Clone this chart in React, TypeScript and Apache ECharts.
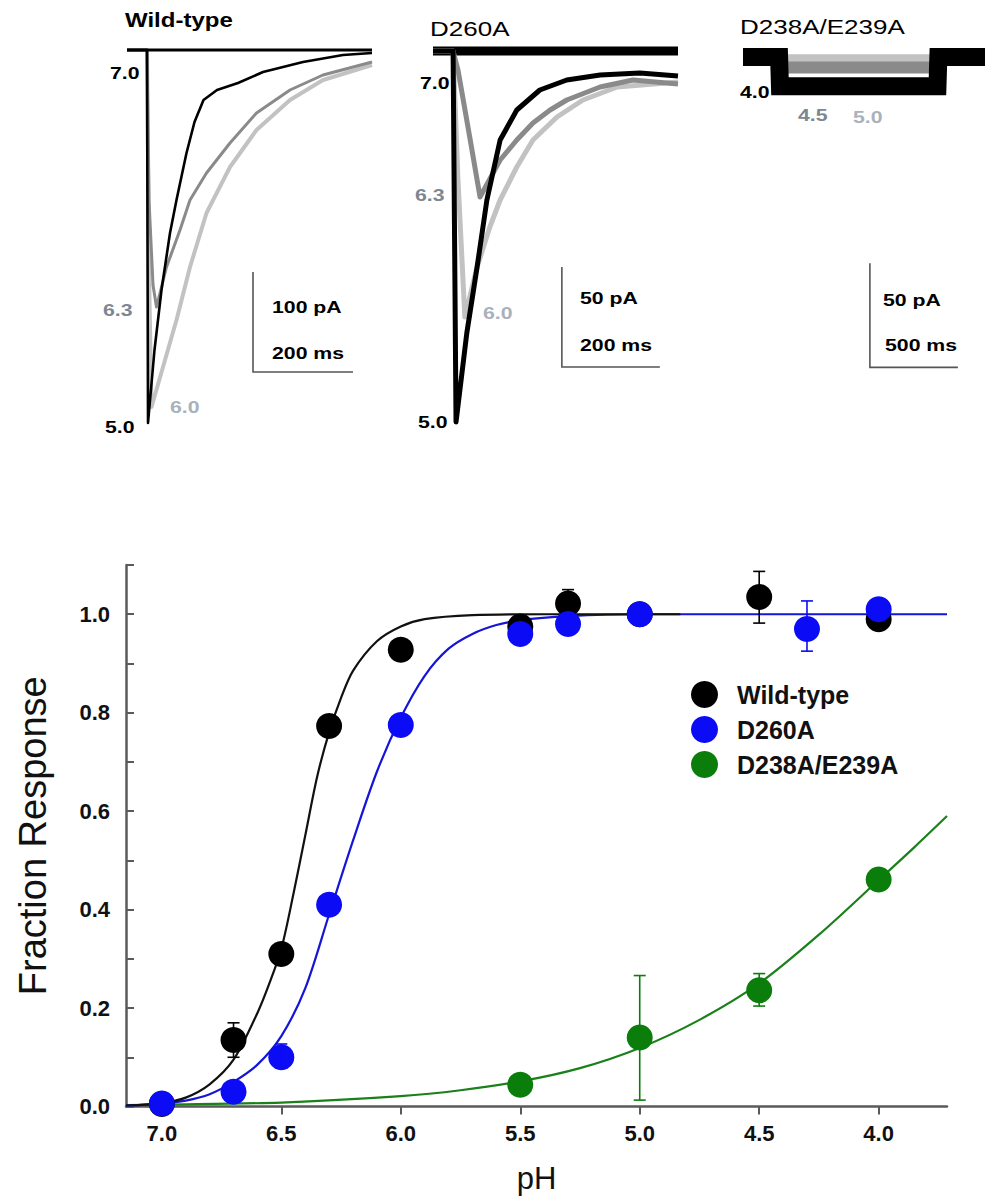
import React, { useEffect, useRef } from "react";
import * as echarts from "echarts";

const FONT = '"Liberation Sans", Arial, Helvetica, sans-serif';

// ---------- Dose-response (bottom panel) ----------
const PH_TICKS = [7.0, 6.5, 6.0, 5.5, 5.0, 4.5, 4.0];
const Y_TICKS = [0, 0.1, 0.2, 0.3, 0.4, 0.5, 0.6, 0.7, 0.8, 0.9, 1.0, 1.1];
const Y_LABELS = [0, 0.2, 0.4, 0.6, 0.8, 1.0];

const WT_POINTS = [
  [7.0, 0.005], [6.7, 0.135], [6.5, 0.31], [6.3, 0.773], [6.0, 0.928],
  [5.5, 0.975], [5.3, 1.022], [5.0, 1.0], [4.5, 1.035], [4.0, 0.99],
];
const D260A_POINTS = [
  [7.0, 0.006], [6.7, 0.03], [6.5, 0.1], [6.3, 0.41], [6.0, 0.775],
  [5.5, 0.96], [5.3, 0.98], [5.0, 1.0], [4.3, 0.97], [4.0, 1.01],
];
const DE_POINTS = [[5.5, 0.044], [5.0, 0.14], [4.5, 0.236], [4.0, 0.461]];

// [pH, low, high]
const WT_ERR = [[6.7, 0.1, 0.17], [5.3, 0.995, 1.05], [4.5, 0.982, 1.087]];
const D260A_ERR = [[6.5, 0.078, 0.127], [5.0, 0.985, 1.015], [4.3, 0.925, 1.027]];
const DE_ERR = [[5.0, 0.013, 0.266], [4.5, 0.204, 0.27]];

// fitted curves
const WT_FIT = [
  [7.15, 0.002], [7.0, 0.007], [6.9, 0.018], [6.8, 0.045], [6.7, 0.095],
  [6.6, 0.19], [6.55, 0.25], [6.5, 0.32], [6.45, 0.43], [6.4, 0.55],
  [6.35, 0.67], [6.3, 0.76], [6.25, 0.83], [6.2, 0.885], [6.1, 0.945],
  [6.0, 0.975], [5.9, 0.99], [5.7, 0.998], [5.4, 1.0], [4.83, 1.0],
];
const D260A_FIT = [
  [7.15, 0.002], [7.0, 0.006], [6.9, 0.012], [6.8, 0.025], [6.7, 0.05],
  [6.6, 0.085], [6.5, 0.143], [6.4, 0.24], [6.3, 0.39], [6.2, 0.54],
  [6.1, 0.68], [6.0, 0.79], [5.9, 0.875], [5.8, 0.93], [5.7, 0.96],
  [5.6, 0.978], [5.5, 0.988], [5.3, 0.996], [5.0, 1.0], [4.0, 1.0], [3.714, 1.0],
];
const DE_FIT = [
  [7.15, 0.003], [7.0, 0.004], [6.5, 0.008], [6.0, 0.021], [5.75, 0.033],
  [5.5, 0.051], [5.25, 0.078], [5.0, 0.119], [4.75, 0.176], [4.5, 0.25],
  [4.25, 0.349], [4.0, 0.46], [3.85, 0.527], [3.714, 0.59],
];

// ---------- Current traces (top panels), [ms, pA] ----------
const WT_T70 = [[0, 0], [490, 0]];
const WT_T50 = [
  [0, 0], [40, 0], [42, -373], [55, -300], [69, -240], [86, -183], [99, -150],
  [119, -103], [135, -72], [153, -50], [180, -40], [222, -33], [272, -22],
  [352, -12], [432, -5], [490, -3],
];
const WT_T63 = [
  [0, 0], [40, 0], [44, -150], [52, -235], [59, -257], [79, -217], [106, -180],
  [126, -150], [159, -123], [206, -93], [259, -63], [326, -40], [392, -25], [490, -12],
];
const WT_T60 = [
  [0, 0], [40, 0], [45, -250], [49, -357], [72, -317], [99, -270], [126, -217],
  [159, -163], [206, -117], [259, -80], [326, -50], [392, -30], [490, -15],
];
const WT_SCALE = { t0: 252, i0: -322, pA: 100, ms: 200 };

const D2_T70 = [[0, 0], [500, 0]];
const D2_T50 = [
  [0, 0], [41, 0], [47, -185.5], [69, -141], [90, -108], [110, -74.5], [137, -44.5],
  [171, -29.5], [218, -19.5], [273, -14.5], [341, -12], [422, -11], [500, -12.5],
];
const D2_T63 = [
  [0, 0], [41, 0], [51, -9.5], [76, -44.5], [96, -73], [137, -54.5], [171, -44.5],
  [204, -36], [239, -29.5], [273, -24.5], [341, -18], [408, -14.5], [500, -16.5],
];
const D2_T60 = [
  [0, 0], [41, 0], [51, -64.5], [65, -133], [90, -108], [116, -88], [137, -74.5],
  [171, -58], [204, -44.5], [253, -33], [306, -24.5], [376, -18], [500, -15.5],
];
const D2_SCALE = { t0: 263, i0: -158, pA: 50, ms: 200 };

const D3_T40 = [[0, 0], [205, 0], [210, -14], [1105, -14], [1110, 0], [1375, 0]];
const D3_T45 = [[0, 0], [205, 0], [210, -5], [1105, -5], [1110, 0], [1375, 0]];
const D3_T50 = [[0, 0], [205, 0], [210, -1.5], [1105, -1.5], [1110, 0], [1375, 0]];
const D3_SCALE = { t0: 721, i0: -149, pA: 50, ms: 500 };

const BLACK = "#000000";
const BLUE = "#0b0bf5";
const GREEN = "#0b7d0b";
const MID_GRAY = "#8a8a8a";
const LIGHT_GRAY = "#c2c2c2";
const AXIS_GRAY = "#5a5a5a";

const errRender = (color: string) => (params: any, api: any) => {
  const x = api.value(0);
  const lo = api.coord([x, api.value(1)]);
  const hi = api.coord([x, api.value(2)]);
  const cap = 6;
  const style = { stroke: color, lineWidth: 1.6 };
  return {
    type: "group",
    children: [
      { type: "line", shape: { x1: lo[0], y1: lo[1], x2: hi[0], y2: hi[1] }, style },
      { type: "line", shape: { x1: lo[0] - cap, y1: lo[1], x2: lo[0] + cap, y2: lo[1] }, style },
      { type: "line", shape: { x1: hi[0] - cap, y1: hi[1], x2: hi[0] + cap, y2: hi[1] }, style },
    ],
  };
};

const trace = (
  idx: number,
  data: number[][],
  color: string,
  width: number,
  join = "round"
) => ({
  type: "line",
  xAxisIndex: idx,
  yAxisIndex: idx,
  data,
  symbol: "none",
  showSymbol: false,
  silent: true,
  animation: false,
  lineStyle: { color, width, join },
  z: 2,
});

const scaleBar = (idx: number, s: { t0: number; i0: number; pA: number; ms: number }) =>
  trace(
    idx,
    [
      [s.t0, s.i0 + s.pA],
      [s.t0, s.i0],
      [s.t0 + s.ms, s.i0],
    ],
    "#555555",
    1.6,
    "miter"
  );

const txt = (
  text: string,
  x: number,
  y: number,
  size: number,
  weight: string,
  fill: string,
  sx = 1.25
) => ({
  type: "text",
  x,
  y,
  scaleX: sx,
  silent: true,
  z: 10,
  style: {
    text,
    fill,
    fontSize: size,
    fontWeight: weight,
    fontFamily: FONT,
    align: "left",
    verticalAlign: "top",
  },
});

const fitLine = (name: string, data: number[][], color: string) => ({
  type: "line",
  name,
  xAxisIndex: 0,
  yAxisIndex: 0,
  data,
  symbol: "none",
  showSymbol: false,
  smooth: 0.3,
  lineStyle: { color, width: 2.2 },
  z: 2,
});

const points = (name: string, data: number[][], color: string, z: number) => ({
  type: "scatter",
  name,
  xAxisIndex: 0,
  yAxisIndex: 0,
  data,
  symbolSize: 26,
  itemStyle: { color, opacity: 1 },
  z,
});

const errors = (name: string, data: number[][], color: string, z: number) => ({
  type: "custom",
  name,
  xAxisIndex: 0,
  yAxisIndex: 0,
  data,
  encode: { x: 0, y: [1, 2] },
  renderItem: errRender(color),
  z,
});

export default function App() {
  const ref = useRef<HTMLDivElement>(null);

  useEffect(() => {
    if (!ref.current) return;
    const chart = echarts.init(ref.current, undefined, { renderer: "svg" });

    const hiddenX = (idx: number, max: number) => ({
      gridIndex: idx,
      type: "value",
      min: 0,
      max,
      show: false,
    });
    const hiddenY = (idx: number, min: number, max: number) => ({
      gridIndex: idx,
      type: "value",
      min,
      max,
      show: false,
    });

    const option: any = {
      animation: false,
      backgroundColor: "#ffffff",
      textStyle: { fontFamily: FONT },
      grid: [
        { left: 126, top: 565, width: 821, height: 541.5 },
        { left: 127, top: 40, width: 245, height: 400 },
        { left: 433, top: 40, width: 245, height: 400 },
        { left: 743, top: 40, width: 242, height: 400 },
      ],
      xAxis: [
        {
          gridIndex: 0,
          type: "value",
          min: 3.714,
          max: 7.15,
          inverse: true,
          name: "pH",
          nameLocation: "middle",
          nameGap: 56,
          nameTextStyle: { fontSize: 31, color: "#111", fontFamily: FONT },
          axisLine: { show: true, onZero: false, lineStyle: { color: AXIS_GRAY, width: 2.5 } },
          axisTick: {
            show: true,
            inside: false,
            length: 8,
            customValues: PH_TICKS,
            lineStyle: { color: AXIS_GRAY, width: 2 },
          },
          axisLabel: {
            customValues: PH_TICKS,
            formatter: (v: number) => v.toFixed(1),
            fontSize: 22,
            fontWeight: "bold",
            color: "#111",
            margin: 16,
            fontFamily: FONT,
          },
          splitLine: { show: false },
        },
        hiddenX(1, 490),
        hiddenX(2, 500),
        hiddenX(3, 1375),
      ],
      yAxis: [
        {
          gridIndex: 0,
          type: "value",
          min: 0,
          max: 1.1,
          name: "Fraction Response",
          nameLocation: "middle",
          nameGap: 74,
          nameTextStyle: { fontSize: 38, color: "#111", fontFamily: FONT },
          axisLine: { show: true, onZero: false, lineStyle: { color: AXIS_GRAY, width: 2.5 } },
          axisTick: {
            show: true,
            inside: true,
            length: 8,
            customValues: Y_TICKS,
            lineStyle: { color: AXIS_GRAY, width: 2 },
          },
          axisLabel: {
            customValues: Y_LABELS,
            formatter: (v: number) => v.toFixed(1),
            fontSize: 22,
            fontWeight: "bold",
            color: "#111",
            margin: 16,
            fontFamily: FONT,
          },
          splitLine: { show: false },
        },
        hiddenY(1, -390, 10),
        hiddenY(2, -194.5, 5.5),
        hiddenY(3, -183.84, 8.16),
      ],
      legend: {
        data: [
          { name: "Wild-type", icon: "circle" },
          { name: "D260A", icon: "circle" },
          { name: "D238A/E239A", icon: "circle" },
        ],
        orient: "vertical",
        left: 686,
        top: 676,
        itemWidth: 27,
        itemHeight: 27,
        itemGap: 8,
        selectedMode: false,
        textStyle: {
          fontSize: 25,
          fontWeight: "bold",
          color: "#111",
          fontFamily: FONT,
          padding: [0, 0, 0, 14],
        },
      },
      graphic: [
        // Wild-type panel
        txt("Wild-type", 125, 10, 20, "bold", "#000", 1.2),
        txt("7.0", 110, 65, 17, "bold", "#000"),
        txt("6.3", 103, 302, 17, "bold", "#7d8791"),
        txt("6.0", 170, 399, 17, "bold", "#a9b1bb"),
        txt("5.0", 105, 419, 17, "bold", "#000"),
        txt("100 pA", 272, 299, 17, "bold", "#000"),
        txt("200 ms", 272, 345, 17, "bold", "#000"),
        // D260A panel
        txt("D260A", 430, 19, 20, "normal", "#000", 1.3),
        txt("7.0", 420, 75, 17, "bold", "#000"),
        txt("6.3", 415, 187, 17, "bold", "#7d8791"),
        txt("6.0", 483, 305, 17, "bold", "#a9b1bb"),
        txt("5.0", 418, 414, 17, "bold", "#000"),
        txt("50 pA", 580, 290, 17, "bold", "#000"),
        txt("200 ms", 580, 337, 17, "bold", "#000"),
        // D238A/E239A panel
        txt("D238A/E239A", 740, 17, 20, "normal", "#000", 1.3),
        txt("4.0", 740, 84, 17, "bold", "#000"),
        txt("4.5", 798, 107, 17, "bold", "#7d8791"),
        txt("5.0", 853, 109, 17, "bold", "#a9b1bb"),
        txt("50 pA", 883, 292, 17, "bold", "#000"),
        txt("500 ms", 885, 337, 17, "bold", "#000"),
      ],
      series: [
        fitLine("D238A/E239A fit", DE_FIT, "#1a801a"),
        fitLine("D260A fit", D260A_FIT, "#1515d8"),
        fitLine("Wild-type fit", WT_FIT, "#111111"),
        points("Wild-type", WT_POINTS, BLACK, 4),
        errors("wt-err", WT_ERR, BLACK, 5),
        points("D260A", D260A_POINTS, BLUE, 6),
        errors("d260a-err", D260A_ERR, BLUE, 7),
        points("D238A/E239A", DE_POINTS, GREEN, 6),
        errors("de-err", DE_ERR, GREEN, 7),
        // Wild-type traces
        trace(1, WT_T60, LIGHT_GRAY, 4),
        trace(1, WT_T63, MID_GRAY, 3),
        trace(1, WT_T50, BLACK, 2.6),
        trace(1, WT_T70, BLACK, 3),
        scaleBar(1, WT_SCALE),
        // D260A traces
        trace(2, D2_T70, BLACK, 9),
        trace(2, D2_T60, LIGHT_GRAY, 5),
        trace(2, D2_T63, MID_GRAY, 5),
        trace(2, D2_T50, BLACK, 5),
        scaleBar(2, D2_SCALE),
        // D238A/E239A traces
        trace(3, D3_T50, LIGHT_GRAY, 12, "miter"),
        trace(3, D3_T45, MID_GRAY, 12, "miter"),
        trace(3, D3_T40, BLACK, 18, "miter"),
        scaleBar(3, D3_SCALE),
      ],
    };

    chart.setOption(option);
    return () => chart.dispose();
  }, []);

  return (
    <div
      ref={ref}
      style={{
        position: "absolute",
        left: 0,
        top: 0,
        width: 985,
        height: 1201,
        background: "#ffffff",
      }}
    />
  );
}
